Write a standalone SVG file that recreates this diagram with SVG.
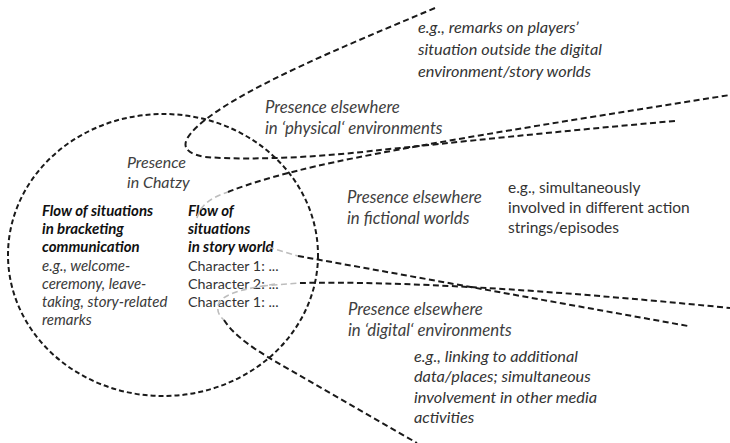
<svg xmlns="http://www.w3.org/2000/svg" width="730" height="443" viewBox="0 0 730 443">
<style>
  .ln{fill:none;stroke:#1a1a1a;stroke-width:2;stroke-dasharray:6 3.5}
  .lg{fill:none;stroke:#bdbdbd;stroke-width:1.6;stroke-dasharray:6 3.5}
  .cr{fill:none;stroke:#1a1a1a;stroke-width:2;stroke-dasharray:5 3}
  text{font-family:Lato,"Open Sans","Liberation Sans",sans-serif;font-size:15px;fill:#333}
  .it{font-style:italic;fill:#3a3a3a}
  .bi{font-style:italic;font-weight:bold;fill:#111}
  .rg{fill:#333;font-size:14.3px}
  .lb{font-style:italic;fill:#404040;font-size:16.8px}
  .eg{font-style:italic;fill:#333;font-size:16.3px}
  .er{fill:#333;font-size:15.5px}
</style>
<rect width="730" height="443" fill="#fff"/>
<g id="presence-chatzy">
  <ellipse class="cr" cx="163" cy="255" rx="155" ry="141"/>
  <text class="lb" x="127" y="168" style="font-size:16px">Presence</text>
  <text class="lb" x="127" y="188" style="font-size:16px">in Chatzy</text>
</g>
<g id="bracketing">
  <text class="bi" x="42" y="216">Flow of situations</text>
  <text class="bi" x="42" y="234">in bracketing</text>
  <text class="bi" x="42" y="252">communication</text>
  <text class="it" x="42" y="271">e.g., welcome-</text>
  <text class="it" x="42" y="289">ceremony, leave-</text>
  <text class="it" x="42" y="307">taking, story-related</text>
  <text class="it" x="42" y="325">remarks</text>
</g>
<g id="story-world">
  <text class="bi" x="188" y="216">Flow of</text>
  <text class="bi" x="188" y="234">situations</text>
  <text class="bi" x="188" y="252">in story world</text>
  <text class="rg" x="188" y="271">Character 1: ...</text>
  <text class="rg" x="188" y="289">Character 2: ...</text>
  <text class="rg" x="188" y="307">Character 1: ...</text>
</g>
<g id="physical">
  <text class="lb" x="265" y="113">Presence elsewhere</text>
  <text class="lb" x="265" y="134">in ‘physical‘ environments</text>
  <text class="eg" x="418" y="33">e.g., remarks on players’</text>
  <text class="eg" x="418" y="55">situation outside the digital</text>
  <text class="eg" x="418" y="77">environment/story worlds</text>
</g>
<g id="fictional">
  <text class="lb" x="347" y="203">Presence elsewhere</text>
  <text class="lb" x="347" y="224">in fictional worlds</text>
  <text class="er" x="508" y="193">e.g., simultaneously</text>
  <text class="er" x="508" y="213">involved in different action</text>
  <text class="er" x="508" y="233">strings/episodes</text>
</g>
<g id="digital">
  <text class="lb" x="348" y="315">Presence elsewhere</text>
  <text class="lb" x="348" y="336">in ‘digital‘ environments</text>
  <text class="eg" x="414" y="362">e.g., linking to additional</text>
  <text class="eg" x="414" y="382">data/places; simultaneous</text>
  <text class="eg" x="414" y="403">involvement in other media</text>
  <text class="eg" x="414" y="423">activities</text>
</g>
<g id="connectors">
  <path class="ln" d="M435,8 C340,48 250,85 205,120 C180,140 178,152 205,157 C260,161 330,156 380,150 C450,143 560,131 675,121"/>
  <path class="lg" d="M197,218 C200,205 212,197 228,192"/>
  <path class="ln" d="M228,192 C250,183 280,175 300,170 C380,150 560,122 730,95"/>
  <path class="lg" d="M268,247 L298,256"/>
  <path class="ln" d="M298,256 L688,326"/>
  <path class="lg" d="M262,286 L300,283"/>
  <path class="ln" d="M300,283 Q450,280 730,308"/>
  <path class="lg" d="M275,284 C250,288 225,292 219,303 C216,310 219,316 224,320"/>
  <path class="ln" d="M224,320 C235,337 255,350 290,370 L417,443"/>
</g>
</svg>
